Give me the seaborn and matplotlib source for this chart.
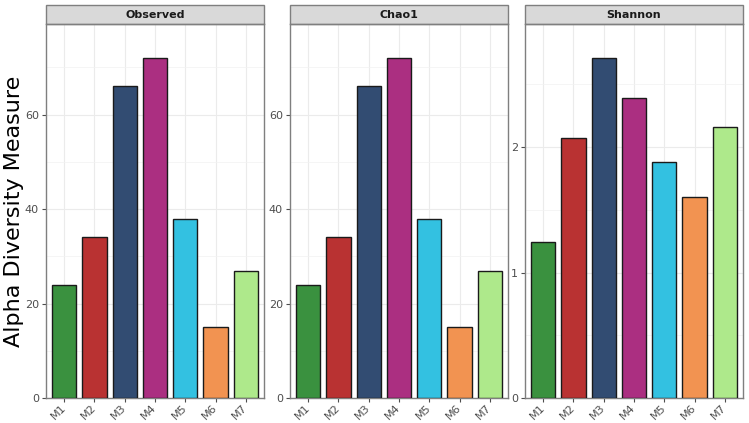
import matplotlib
matplotlib.use("Agg")
import matplotlib.pyplot as plt
import seaborn as sns
import pandas as pd
from matplotlib.patches import Rectangle
from matplotlib.ticker import MultipleLocator

# datos
samples = ["M1", "M2", "M3", "M4", "M5", "M6", "M7"]
observed = [24, 34, 66, 72, 38, 15, 27]
chao1 = [24, 34, 66, 72, 38, 15, 27]
shannon = [1.24, 2.07, 2.71, 2.39, 1.88, 1.60, 2.16]
measures = ["Observed", "Chao1", "Shannon"]
colors = ["#3a913f", "#b93232", "#324c72", "#ab2f81", "#33c1e1", "#f29351", "#aee98b"]

df = pd.DataFrame({
    "sample": samples * 3,
    "measure": [m for m in measures for _ in samples],
    "value": observed + chao1 + shannon,
})

sns.set_style("white")
plt.rcParams["font.family"] = ["DejaVu Sans"]

fig = plt.figure(figsize=(7.49, 4.23), dpi=100)
W, H = 749, 423
lefts = [46, 290, 525]
pw = 218
bottom, top = 398, 24
strip_h = 19
majors = {"Observed": 20, "Chao1": 20, "Shannon": 1}

for left, m in zip(lefts, measures):
    ax = fig.add_axes([left / W, (H - bottom) / H, pw / W, (bottom - top) / H])
    sub = df[df["measure"] == m]
    sns.barplot(data=sub, x="sample", y="value", hue="sample", palette=colors,
                width=0.8, edgecolor="#1a1a1a", linewidth=1.0, legend=False,
                saturation=1, ax=ax, zorder=3)
    ax.set_xlim(-0.6, 6.6)
    ax.set_ylim(0, sub["value"].max() * 1.1)
    ax.yaxis.set_major_locator(MultipleLocator(majors[m]))
    ax.yaxis.set_minor_locator(MultipleLocator(majors[m] / 2))
    ax.grid(True, which="major", color="#ebebeb", lw=0.8, zorder=0)
    ax.grid(True, which="minor", axis="y", color="#f2f2f2", lw=0.5, zorder=0)
    ax.set_axisbelow(True)
    for s in ax.spines.values():
        s.set_color("#7f7f7f")
        s.set_linewidth(1.0)
    ax.tick_params(axis="both", which="major", length=3, width=0.8, color="#4d4d4d",
                   labelsize=8, labelcolor="#4d4d4d", bottom=True, left=True, pad=2)
    ax.tick_params(axis="x", which="major", pad=3)
    ax.tick_params(axis="y", which="minor", length=0)
    plt.setp(ax.get_xticklabels(), rotation=45, ha="right", va="center",
             rotation_mode="anchor")
    ax.set_xlabel("")
    ax.set_ylabel("")
    # franja de titulo (estilo facet)
    ax.add_patch(Rectangle((0, 1), 1, strip_h / (bottom - top), transform=ax.transAxes,
                           facecolor="#d9d9d9", edgecolor="#7f7f7f", lw=1.0, clip_on=False))
    ax.text(0.5, 1 + strip_h / (bottom - top) / 2, m, transform=ax.transAxes,
            ha="center", va="center", fontsize=8, fontweight="bold", color="#1a1a1a")

fig.text(14 / W, ((H - bottom) + (bottom - top) / 2) / H, "Alpha Diversity Measure",
         rotation=90, ha="center", va="center", fontsize=16, color="black")

fig.savefig("out.png", dpi=100)
